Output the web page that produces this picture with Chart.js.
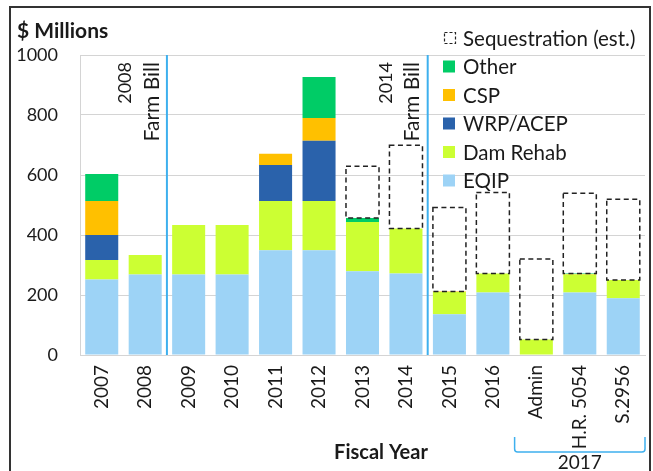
<!DOCTYPE html>
<html>
<head>
<meta charset="utf-8">
<script src="https://cdn.jsdelivr.net/npm/chart.js@4/dist/chart.umd.min.js"></script>
<style>
  html, body { margin: 0; padding: 0; background: #fff; }
  #wrap { width: 653px; height: 471px; }
</style>
</head>
<body>
<div id="wrap"><canvas id="chart" width="653" height="471"></canvas></div>
<script>
const categories = ['2007', '2008', '2009', '2010', '2011', '2012', '2013', '2014', '2015', '2016', 'Admin', 'H.R. 5054', 'S.2956'];
const eqip = [252, 268, 268, 268, 349, 349, 279, 272, 136, 208, 0, 208, 189];
const damRehab = [65, 65, 165, 165, 164, 164, 164, 150, 74, 64, 52, 60, 61];
const wrpAcep = [83, 0, 0, 0, 120, 201, 0, 0, 0, 0, 0, 0, 0];
const csp = [113, 0, 0, 0, 38, 76, 0, 0, 2, 0, 0, 2, 0];
const other = [90, 0, 0, 0, 0, 137, 14, 0, 0, 0, 0, 2, 0];
const sequestration = [0, 0, 0, 0, 0, 0, 172, 277, 280, 270, 268, 267, 269];
const yTicks = [0, 200, 400, 600, 800, 1000];

const FONT = 'Lato, "Open Sans", sans-serif';
const TEXT = '#1a1a1a';
const BILL_BLUE = '#3eb0ee';

// dashed outlines for the sequestration bars, legend, notes and frame
const extras = {
    id: 'extras',
    afterDatasetsDraw(chart) {
        const ctx = chart.ctx;
        const area = chart.chartArea;
        const x = chart.scales.x;

        // sequestration boxes
        const seqMeta = chart.getDatasetMeta(5);
        ctx.save();
        ctx.strokeStyle = '#222';
        ctx.lineWidth = 1.5;
        ctx.setLineDash([5, 3.5]);
        seqMeta.data.forEach((bar, i) => {
            if (!sequestration[i]) return;
            const p = bar.getProps(['x', 'y', 'base', 'width'], true);
            ctx.strokeRect(p.x - p.width / 2, p.y, p.width, p.base - p.y);
        });
        ctx.restore();

        // farm bill lines
        const bills = [[1, '2008'], [7, '2014']];
        bills.forEach(([idx, year]) => {
            const lx = (x.getPixelForValue(idx) + x.getPixelForValue(idx + 1)) / 2;
            ctx.save();
            ctx.strokeStyle = BILL_BLUE;
            ctx.lineWidth = 2;
            ctx.beginPath();
            ctx.moveTo(lx, area.top);
            ctx.lineTo(lx, area.bottom);
            ctx.stroke();
            ctx.fillStyle = TEXT;
            ctx.textAlign = 'right';
            ctx.textBaseline = 'middle';
            [[lx - 42, year, 18], [lx - 15, 'Farm Bill', 21]].forEach(([tx, t, fs]) => {
                ctx.save();
                ctx.font = fs + 'px ' + FONT;
                ctx.translate(tx, 62);
                ctx.rotate(-Math.PI / 2);
                ctx.fillText(t, 0, 0);
                ctx.restore();
            });
            ctx.restore();
        });

        // legend (reverse order)
        const items = chart.data.datasets.slice().reverse();
        ctx.save();
        ctx.font = '20.5px ' + FONT;
        ctx.textBaseline = 'middle';
        ctx.textAlign = 'left';
        items.forEach((ds, k) => {
            const cy = 38 + k * 28.5;
            if (ds.label.startsWith('Seq')) {
                ctx.strokeStyle = '#222';
                ctx.lineWidth = 1.2;
                ctx.setLineDash([3, 2]);
                ctx.strokeRect(444.5, cy - 5.5, 11, 11);
                ctx.setLineDash([]);
            } else {
                ctx.fillStyle = ds.backgroundColor;
                ctx.fillRect(443, cy - 6, 12, 12);
            }
            ctx.fillStyle = TEXT;
            ctx.fillText(ds.label, 463, cy + 1);
        });
        ctx.restore();

        // titles
        ctx.save();
        ctx.fillStyle = TEXT;
        ctx.textBaseline = 'middle';
        ctx.textAlign = 'left';
        ctx.font = 'bold 21px ' + FONT;
        ctx.fillText('$ Millions', 17, 31);
        ctx.textAlign = 'center';
        ctx.font = 'bold 20px ' + FONT;
        ctx.fillText('Fiscal Year', 381, 453);
        ctx.restore();

        // 2017 bracket
        const bl = x.getPixelForValue(10) - (x.getPixelForValue(11) - x.getPixelForValue(10)) / 2;
        const br = area.right;
        ctx.save();
        ctx.strokeStyle = BILL_BLUE;
        ctx.lineWidth = 1.5;
        ctx.beginPath();
        ctx.moveTo(bl, 437);
        ctx.lineTo(bl, 449);
        ctx.quadraticCurveTo(bl, 452, bl + 3, 452);
        ctx.lineTo(br - 3, 452);
        ctx.quadraticCurveTo(br, 452, br, 449);
        ctx.lineTo(br, 437);
        ctx.stroke();
        ctx.fillStyle = TEXT;
        ctx.font = '19px ' + FONT;
        ctx.textAlign = 'center';
        ctx.textBaseline = 'middle';
        ctx.fillText('2017', (bl + br) / 2, 463);
        ctx.restore();

        // outer frame
        ctx.save();
        ctx.strokeStyle = '#333';
        ctx.lineWidth = 2;
        ctx.strokeRect(10, 7, 640, 480);
        ctx.restore();
    }
};

new Chart(document.getElementById('chart'), {
    type: 'bar',
    data: {
        labels: categories,
        datasets: [
            { label: 'EQIP', data: eqip, backgroundColor: '#9dd3f6' },
            { label: 'Dam Rehab', data: damRehab, backgroundColor: '#ccff33' },
            { label: 'WRP/ACEP', data: wrpAcep, backgroundColor: '#2a62ab' },
            { label: 'CSP', data: csp, backgroundColor: '#ffc000' },
            { label: 'Other', data: other, backgroundColor: '#00cc66' },
            { label: 'Sequestration (est.)', data: sequestration, backgroundColor: 'rgba(0,0,0,0)' }
        ]
    },
    options: {
        responsive: false,
        animation: false,
        devicePixelRatio: 1,
        layout: { padding: { top: 55, right: 8, left: 0, bottom: 0 } },
        datasets: { bar: { barPercentage: 0.76, categoryPercentage: 1, borderWidth: 0 } },
        plugins: { legend: { display: false }, tooltip: { enabled: false } },
        scales: {
            x: {
                stacked: true,
                afterFit: s => { s.height = 116; },
                grid: { display: false },
                border: { color: '#d4d4d4' },
                ticks: {
                    color: TEXT, font: { family: FONT, size: 19 },
                    minRotation: 90, maxRotation: 90, padding: 2, autoSkip: false
                }
            },
            y: {
                stacked: true,
                min: 0, max: 1000,
                afterFit: s => { s.width = 80; },
                afterBuildTicks: s => { s.ticks = yTicks.map(v => ({ value: v })); },
                grid: { color: '#d4d4d4', drawTicks: false },
                border: { color: '#d4d4d4' },
                ticks: {
                    color: TEXT, font: { family: FONT, size: 18 }, padding: 22,
                    callback: v => String(v)
                }
            }
        }
    },
    plugins: [extras]
});
</script>
</body>
</html>
